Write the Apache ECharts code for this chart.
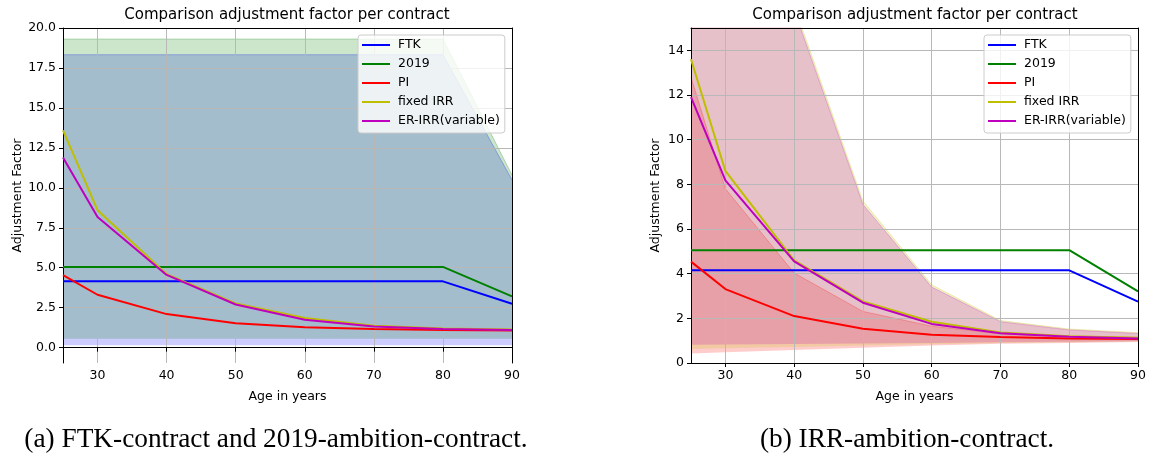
<!DOCTYPE html>
<html><head><meta charset="utf-8">
<script src="https://cdn.jsdelivr.net/npm/echarts@6/dist/echarts.min.js"></script>
<style>html,body{margin:0;padding:0;background:#fff}#c{width:1149px;height:455px}</style>
</head><body><div id="c"></div><script>
// ---- data ----
const ages = [25, 30, 40, 50, 60, 70, 80, 90];
const xTicks = [30, 40, 50, 60, 70, 80, 90];
const leftYTicks = [0, 2.5, 5, 7.5, 10, 12.5, 15, 17.5, 20];
const rightYTicks = [0, 2, 4, 6, 8, 10, 12, 14];
const seriesNames = ['FTK', '2019', 'PI', 'fixed IRR', 'ER-IRR(variable)'];

const ftk = [4.15, 4.15, 4.15, 4.15, 4.15, 4.15, 4.15, 2.75];
const amb2019 = [5.05, 5.05, 5.05, 5.05, 5.05, 5.05, 5.05, 3.21];
const pi = [4.54, 3.31, 2.1, 1.53, 1.27, 1.16, 1.1, 1.07];
const fixedIRR = [13.6, 8.6, 4.6, 2.76, 1.85, 1.37, 1.2, 1.13];
const erIRR = [11.9, 8.18, 4.55, 2.7, 1.75, 1.33, 1.17, 1.1];

const ftkBandLow = [0.15, 0.15, 0.15, 0.15, 0.15, 0.15, 0.15, 0.15];
const ftkBandHigh = [18.33, 18.33, 18.33, 18.33, 18.33, 18.33, 18.33, 10.5];
const amb2019BandLow = [0.56, 0.56, 0.56, 0.56, 0.56, 0.56, 0.56, 0.56];
const amb2019BandHigh = [19.31, 19.31, 19.31, 19.31, 19.31, 19.31, 19.31, 10.8];

const piBandLow = [0.42, 0.48, 0.58, 0.68, 0.78, 0.86, 0.9, 0.94];
const piBandHigh = [12.8, 7.8, 4.03, 2.31, 1.65, 1.3, 1.2, 1.15];
const fixedBandLow = [0.63, 0.66, 0.72, 0.78, 0.84, 0.9, 0.93, 0.96];
const fixedBandHigh = [38, 27, 16.0, 7.25, 3.5, 1.9, 1.52, 1.36];
const erBandLow = [0.82, 0.83, 0.85, 0.87, 0.9, 0.93, 0.95, 0.97];
const erBandHigh = [36, 26, 15.8, 7.1, 3.4, 1.85, 1.48, 1.32];

// ---- helpers ----
const FONT = 'DejaVu Sans';
const zip = (xs, ys) => xs.map((x, i) => [x, ys[i]]);
const zipYX = (xs, ys) => xs.map((x, i) => [ys[i], x]);

function lineSeries(name, values, color, g) {
  return {
    type: 'line', name: name, xAxisIndex: g, yAxisIndex: g,
    data: zip(ages, values), symbol: 'none', showSymbol: false,
    color: color, lineStyle: { width: 2, color: color }, z: 5,
    animation: false, silent: true
  };
}
// value column first so that the stack is computed on y
function bandSeries(id, low, high, rgb, g) {
  const stack = 'band-' + id;
  return [
    {
      type: 'line', name: id + ' low', stack: stack, xAxisIndex: g, yAxisIndex: g,
      encode: { x: 1, y: 0 },
      data: zipYX(ages, low), symbol: 'none', lineStyle: { width: 0, opacity: 0 },
      z: 1, animation: false, silent: true
    },
    {
      type: 'line', name: id + ' high', stack: stack, xAxisIndex: g, yAxisIndex: g,
      encode: { x: 1, y: 0 },
      data: zipYX(ages, high.map((h, i) => h - low[i])), symbol: 'none',
      lineStyle: { width: 1, color: 'rgba(' + rgb + ',0.25)' },
      areaStyle: { color: 'rgba(' + rgb + ',0.2)', opacity: 1 },
      z: 1, animation: false, silent: true
    }
  ];
}
function xAxisMain(g) {
  return {
    type: 'value', gridIndex: g, min: 25, max: 90, z: 3,
    name: 'Age in years', nameLocation: 'middle', nameGap: 27,
    nameTextStyle: { fontFamily: FONT, fontSize: 12.5, color: '#000' },
    axisLine: { lineStyle: { color: '#000', width: 1 } },
    axisTick: { show: true, length: 4, lineStyle: { color: '#000' }, customValues: xTicks },
    axisLabel: { fontFamily: FONT, fontSize: 12.5, color: '#000', margin: 6, customValues: xTicks },
    splitLine: { show: true, lineStyle: { color: '#b8b8b8', width: 1 } }
  };
}
function yAxisMain(g, min, max, ticks, fmt, gap) {
  return {
    type: 'value', gridIndex: g, min: min, max: max, z: 3,
    name: 'Adjustment Factor', nameLocation: 'middle', nameGap: gap,
    nameTextStyle: { fontFamily: FONT, fontSize: 12.5, color: '#000' },
    axisLine: { show: true, lineStyle: { color: '#000', width: 1 } },
    axisTick: { show: true, length: 4, lineStyle: { color: '#000' }, customValues: ticks },
    axisLabel: { fontFamily: FONT, fontSize: 12.5, color: '#000', margin: 7, customValues: ticks, formatter: fmt },
    splitLine: { show: true, lineStyle: { color: '#b8b8b8', width: 1 } }
  };
}
function frameAxis(g, pos) {
  return {
    type: 'value', gridIndex: g, position: pos, min: 0, max: 1, z: 6,
    axisLine: { show: true, onZero: false, lineStyle: { color: '#000', width: 1 } },
    axisTick: { show: false }, axisLabel: { show: false }, splitLine: { show: false }
  };
}
function legendAt(left) {
  return {
    left: left, top: 35, orient: 'vertical', icon: 'rect', z: 10,
    itemWidth: 28, itemHeight: 2, itemGap: 5, padding: [3, 5, 5, 4],
    backgroundColor: 'rgba(255,255,255,0.8)', borderColor: '#cccccc', borderWidth: 1, borderRadius: 3,
    textStyle: { fontFamily: FONT, fontSize: 12.5, color: '#000', lineHeight: 14, padding: [0, 0, 0, 3] },
    data: seriesNames, selectedMode: false
  };
}
function txt(x, y, text, font) {
  return {
    type: 'text', x: x, y: y, silent: true,
    style: { text: text, font: font, fill: '#000', textAlign: 'center', textVerticalAlign: 'middle', align: 'center', verticalAlign: 'middle' }
  };
}

const colors = { FTK: '#0000ff', '2019': '#008000', PI: '#ff0000', 'fixed IRR': '#bfbf00', 'ER-IRR(variable)': '#bf00bf' };

const series = [].concat(
  bandSeries('ftk', ftkBandLow, ftkBandHigh, '0,0,255', 0),
  bandSeries('amb2019', amb2019BandLow, amb2019BandHigh, '0,128,0', 0),
  [
    lineSeries('FTK', ftk, colors.FTK, 0),
    lineSeries('2019', amb2019, colors['2019'], 0),
    lineSeries('PI', pi, colors.PI, 0),
    lineSeries('fixed IRR', fixedIRR, colors['fixed IRR'], 0),
    lineSeries('ER-IRR(variable)', erIRR, colors['ER-IRR(variable)'], 0)
  ],
  bandSeries('pi', piBandLow, piBandHigh, '255,0,0', 1),
  bandSeries('fixed', fixedBandLow, fixedBandHigh, '191,191,0', 1),
  bandSeries('er', erBandLow, erBandHigh, '191,0,191', 1),
  [
    lineSeries('FTK', ftk, colors.FTK, 1),
    lineSeries('2019', amb2019, colors['2019'], 1),
    lineSeries('PI', pi, colors.PI, 1),
    lineSeries('fixed IRR', fixedIRR, colors['fixed IRR'], 1),
    lineSeries('ER-IRR(variable)', erIRR, colors['ER-IRR(variable)'], 1)
  ]
);

const option = {
  animation: false,
  backgroundColor: '#ffffff',
  grid: [
    { left: 63, right: 637, top: 28, bottom: 92 },
    { left: 691, right: 10, top: 28, bottom: 92 }
  ],
  xAxis: [xAxisMain(0), xAxisMain(1), frameAxis(0, 'top'), frameAxis(1, 'top')],
  yAxis: [
    yAxisMain(0, -0.96, 20, leftYTicks, v => v.toFixed(1), 37),
    yAxisMain(1, 0, 15, rightYTicks, v => String(v), 29),
    frameAxis(0, 'right'), frameAxis(1, 'right')
  ],
  legend: [legendAt(358), legendAt(984)],
  graphic: [
    txt(287, 15, 'Comparison adjustment factor per contract', '15px "DejaVu Sans"'),
    txt(915, 15, 'Comparison adjustment factor per contract', '15px "DejaVu Sans"'),
    txt(276, 440, '(a) FTK-contract and 2019-ambition-contract.', '27.3px "Liberation Serif"'),
    txt(907, 440, '(b) IRR-ambition-contract.', '27.3px "Liberation Serif"')
  ],
  series: series
};

const chart = echarts.init(document.getElementById('c'), null, { renderer: 'canvas' });
chart.setOption(option);
</script></body></html>
